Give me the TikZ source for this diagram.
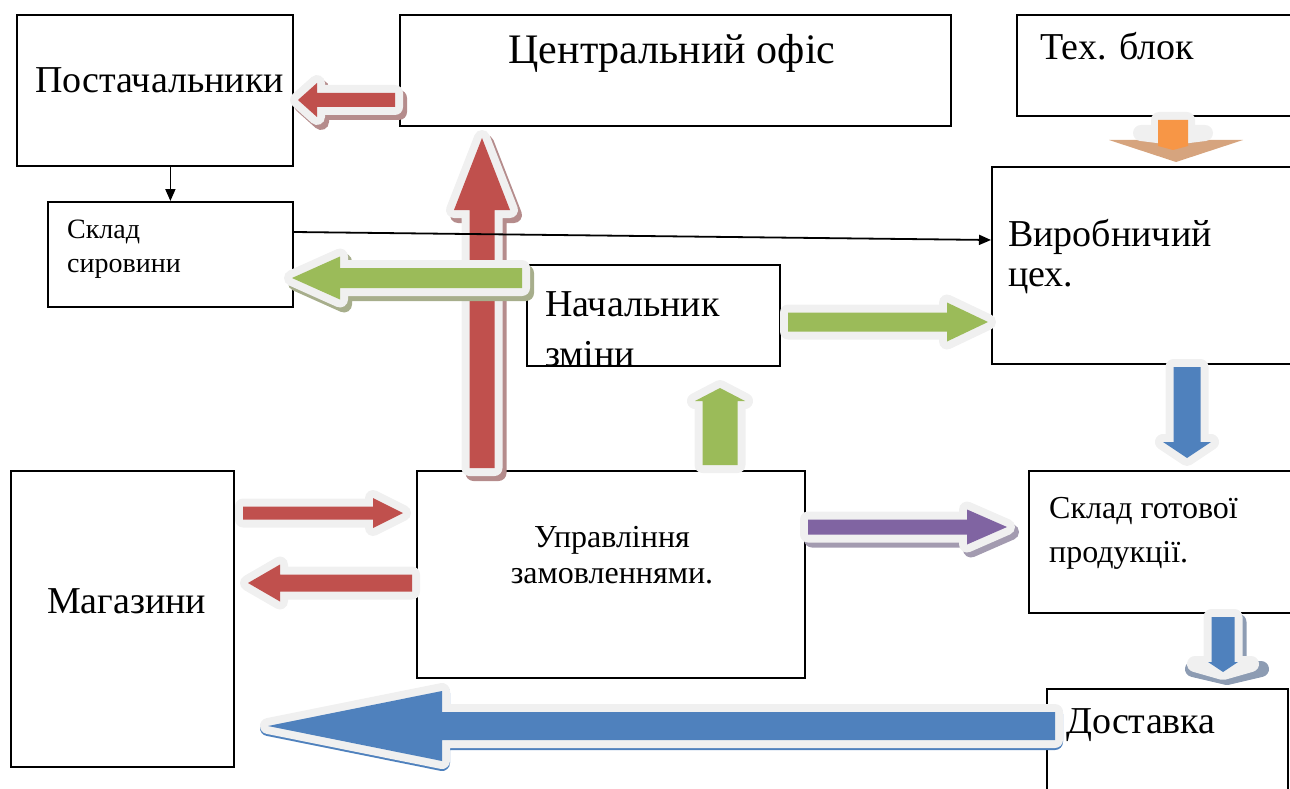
\documentclass[tikz,border=0pt]{standalone}
\usepackage{fontspec}
\setmainfont{Liberation Serif}
\usetikzlibrary{arrows.meta,calc}

\definecolor{cred}{HTML}{C0504D}
\definecolor{credsh}{HTML}{B58C8C}
\definecolor{cgreen}{HTML}{9BBB59}
\definecolor{cgreensh}{HTML}{A7AE8C}
\definecolor{cblue}{HTML}{4F81BD}
\definecolor{cbluesh}{HTML}{8D9CB3}
\definecolor{cpurple}{HTML}{8064A2}
\definecolor{cpurplesh}{HTML}{A39BB0}
\definecolor{corange}{HTML}{F79646}
\definecolor{corangesh}{HTML}{D6A47E}
\definecolor{crim}{HTML}{F0F0F0}

\tikzset{
  box/.style={draw, line width=1.8pt, rectangle, inner sep=0pt, anchor=north west},
  bigtxt/.style={font=\fontsize{38}{50}\selectfont, inner sep=0pt, align=left},
  midtxt/.style={font=\fontsize{32}{44}\selectfont, inner sep=0pt, align=left},
  smltxt/.style={font=\fontsize{28}{34}\selectfont, inner sep=0pt, align=left},
  blkrim/.style={fill=crim, draw=crim, line width=16pt, line join=round},
  blkshade/.style={fill=#1, draw=#1, line width=16pt, line join=round, xshift=4pt, yshift=-5pt},
  thinarr/.style={line width=1.8pt, -{Triangle[length=12pt, width=10pt]}}
}

% block arrow outline from tail to tip: shaft half width, head half width, head length
\newcommand\blkshape[6]{%
  \path let \p1=#2, \p2=#3 in \pgfextra{%
    \pgfmathsetmacro\blkang{atan2(\y2-\y1,\x2-\x1)}%
    \pgfmathsetmacro\blklen{veclen(\x2-\x1,\y2-\y1)}%
    \global\let\blkang\blkang \global\let\blklen\blklen
    \xdef\blkx{\x1}\xdef\blky{\y1}};
  \path[#1, shift={(\blkx,\blky)}, rotate=\blkang]
    (0,-#4) -- (\blklen-#6,-#4) -- (\blklen-#6,-#5) -- (\blklen,0)
    -- (\blklen-#6,#5) -- (\blklen-#6,#4) -- (0,#4) -- cycle;
}
% shadow, light rim, coloured body
\newcommand\blkarrow[7]{%
  \blkshape{#1}{#3}{#4}{#5}{#6}{#7}%
  \blkshape{blkrim}{#3}{#4}{#5}{#6}{#7}%
  \blkshape{#2}{#3}{#4}{#5}{#6}{#7}%
}

\begin{document}
\begin{tikzpicture}[x=1pt,y=-1pt]
  \useasboundingbox (0,0) rectangle (1290,789);

  % boxes
  \node[box, minimum width=276, minimum height=151] (sup) at (16,14) {};
  \node[box, minimum width=551, minimum height=111] (cent) at (399,14) {};
  \node[box, minimum width=290, minimum height=101] (tech) at (1016,14) {};
  \node[box, minimum width=245, minimum height=105] (skl) at (47,201) {};
  \node[box, minimum width=310, minimum height=197] (vir) at (991,166) {};
  \node[box, minimum width=253, minimum height=101] (nach) at (526,264) {};
  \node[box, minimum width=223, minimum height=296] (mag) at (10,470) {};
  \node[box, minimum width=388, minimum height=207] (upr) at (416,470) {};
  \node[box, minimum width=280, minimum height=142] (got) at (1028,470) {};
  \node[box, minimum width=241, minimum height=120] (dost) at (1046,688) {};

  % block arrows
  \blkarrow{blkshade=credsh}{fill=cred}{(395,100)}{(298,100)}{7}{17}{19}
  \blkarrow{blkshade=credsh}{fill=cred}{(482,468)}{(482,138)}{12.5}{28}{72}
  \blkarrow{blkshade=cgreensh}{fill=cgreen}{(522,278)}{(292,278)}{10}{21.5}{48}
  \blkarrow{}{fill=cgreen}{(788,322)}{(988,322)}{9.5}{19.5}{41}
  \blkarrow{}{fill=cgreen}{(720,465)}{(720,388)}{17.5}{25}{13}
  \blkarrow{}{fill=cred}{(243,513)}{(403,513)}{6.5}{15}{30}
  \blkarrow{}{fill=cred}{(412,583)}{(248,583)}{8.5}{18.5}{32}
  \blkarrow{blkshade=cpurplesh}{fill=cpurple}{(808,527)}{(1007,527)}{7.5}{17.5}{40}
  \blkarrow{}{fill=cblue}{(1187,367)}{(1187,458)}{13.5}{24}{16}
  \blkarrow{blkshade=cblue, xshift=-4pt, yshift=3pt}{fill=cblue}{(1055,726)}{(268,726)}{14}{35}{174}

  \blkshape{fill=corangesh}{(1176,120)}{(1176,162)}{0}{67}{22}
  \blkshape{blkrim}{(1173,120)}{(1173,137)}{14}{32}{4}
  \blkshape{fill=corange}{(1173,120)}{(1173,150)}{15}{15}{4}

  \blkshape{blkshade=cbluesh}{(1223,617)}{(1223,672)}{11.5}{34}{8}
  \blkshape{blkrim}{(1223,617)}{(1223,672)}{11.5}{28}{8}
  \blkshape{fill=cblue}{(1223,617)}{(1223,672)}{11.5}{15}{10}

  % thin connectors
  \draw[thinarr] (sup.south -| skl.north) -- (skl.north);
  \draw[thinarr] ([yshift=-31pt]skl.north east) -- ([yshift=-74pt]vir.north west);

  % texts
  \node[bigtxt, anchor=base west] (supt) at (35,93) {Постачальники};
  \node[bigtxt, anchor=base, font=\fontsize{42}{50}\selectfont] (centt) at (672,64) {Центральний офіс};
  \node[bigtxt, anchor=base west] (techt) at (1040,60) {Тех. блок};
  \node[smltxt, anchor=north west] (sklt) at (67,220) {Склад\\сировини};
  \node[bigtxt, anchor=north west, font=\fontsize{38}{40}\selectfont] (virt) at (1008,219) {Виробничий\\цех.};
  \begin{scope}
    \clip (nach.north west) rectangle (nach.south east);
    \node[bigtxt, anchor=north west] (nacht) at (545,291) {Начальник\\зміни};
  \end{scope}
  \node[bigtxt, anchor=base west] (magt) at (47,613) {Магазини};
  \node[midtxt, anchor=north, align=center, font=\fontsize{32}{36}\selectfont] (uprt) at (612,526) {Управління\\замовленнями.};
  \node[midtxt, anchor=north west] (gott) at (1049,497) {Склад готової\\продукції.};
  \node[bigtxt, anchor=base west] (dostt) at (1066,733) {Доставка};
\end{tikzpicture}
\end{document}
